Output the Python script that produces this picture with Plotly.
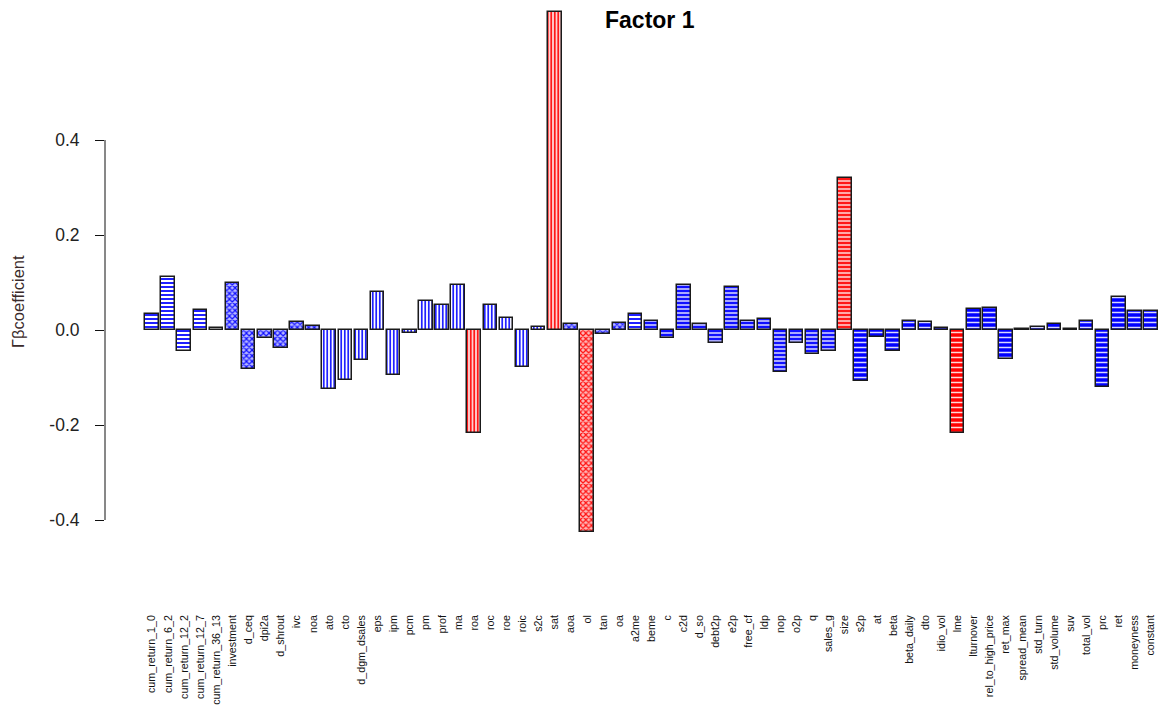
import plotly.graph_objects as go

categories = [
    "cum_return_1_0", "cum_return_6_2", "cum_return_12_2", "cum_return_12_7", "cum_return_36_13",
    "investment", "d_ceq", "dpi2a", "d_shrout", "ivc", "noa", "ato", "cto", "d_dgm_dsales",
    "eps", "ipm", "pcm", "pm", "prof", "ma", "roa", "roc", "roe", "roic", "s2c", "sat", "aoa",
    "ol", "tan", "oa", "a2me", "beme", "c", "c2d", "d_so", "debt2p", "e2p", "free_cf", "ldp",
    "nop", "o2p", "q", "sales_g", "size", "s2p", "at", "beta", "beta_daily", "dto", "idio_vol",
    "lme", "lturnover", "rel_to_high_price", "ret_max", "spread_mean", "std_turn", "std_volume",
    "suv", "total_vol", "prc", "ret", "moneyness", "constant",
]

values = [
    0.034, 0.112, -0.045, 0.042, 0.005,
    0.100, -0.082, -0.017, -0.038, 0.017, 0.008, -0.124, -0.106, -0.064,
    0.080, -0.095, -0.006, 0.062, 0.052, 0.094, -0.216, 0.052, 0.025, -0.077, 0.007, 0.669, 0.013,
    -0.425, -0.008, 0.015, 0.034, 0.018, -0.017, 0.095, 0.013, -0.027, 0.091, 0.020, 0.023,
    -0.088, -0.027, -0.050, -0.044, 0.320, -0.108, -0.014, -0.044, 0.018, 0.016, 0.005,
    -0.217, 0.044, 0.046, -0.062, 0.002, 0.007, 0.013,
    0.002, 0.018, -0.121, 0.070, 0.039, 0.041,
]

y_ticks = [-0.4, -0.2, 0.0, 0.2, 0.4]

# style group of each bar (pattern kind)
groups = (
    ["hw"] * 5 + ["xb"] * 6 + ["vb"] * 9 + ["vr"] + ["vb"] * 3 + ["vb"] + ["vr"] + ["xb"]
    + ["xr"] + ["xb"] * 2 + ["hw"] + ["hl"] * 12 + ["hr"] + ["hd"] * 6 + ["hdr"] + ["hd"] * 12
)

styles = {
    "hw": dict(shape="-", fg="#2020ff", bg="#ffffff", size=4, sol=0.5),
    "xb": dict(shape="x", fg="#1010ff", bg="#b8b8ff", size=4, sol=0.5),
    "vb": dict(shape="|", fg="#2020ff", bg="#ffffff", size=3.5, sol=0.5),
    "vr": dict(shape="|", fg="#ff1818", bg="#ffd0d0", size=3.5, sol=0.5),
    "xr": dict(shape="x", fg="#ff1010", bg="#ffb8b8", size=4, sol=0.5),
    "hl": dict(shape="-", fg="#1010ff", bg="#a8a8ff", size=4, sol=0.5),
    "hr": dict(shape="-", fg="#ff1818", bg="#ffa8a8", size=4, sol=0.5),
    "hd": dict(shape="-", fg="#d8d8ff", bg="#0000ff", size=5, sol=0.3),
    "hdr": dict(shape="-", fg="#ffd8d8", bg="#ff0000", size=5, sol=0.3),
}

fig = go.Figure()
for g, st in styles.items():
    ys = [v if gg == g else None for v, gg in zip(values, groups)]
    fig.add_trace(go.Bar(
        x=categories,
        y=ys,
        width=0.84,
        marker=dict(
            color=st["bg"],
            line=dict(color="#1a1a1a", width=1.5),
            pattern=dict(shape=st["shape"], fgcolor=st["fg"], bgcolor=st["bg"],
                         size=st["size"], solidity=st["sol"], fillmode="replace"),
        ),
        showlegend=False,
    ))

L, T, B = 105, 5, 101
W, H = 1160, 713
plot_h = H - T - B
px_per_unit = 475.0
zero_px = 330
y_top = (zero_px - T) / px_per_unit
y_bot = -(H - B - zero_px) / px_per_unit

spacing = 16.113
x0 = -(152 - L) / spacing
x1 = x0 + (W - L) / spacing

fig.update_layout(
    width=W, height=H,
    margin=dict(l=L, r=0, t=T, b=B),
    paper_bgcolor="white", plot_bgcolor="white",
    font=dict(family="Liberation Sans, Arial, sans-serif", color="#111"),
    barmode="overlay",
    bargap=0,
    xaxis=dict(
        type="category", categoryorder="array", categoryarray=categories,
        range=[x0, x1], showgrid=False, zeroline=False, showline=False,
        ticks="", tickangle=-90, tickfont=dict(size=10.7, color="#111"),
        fixedrange=True,
    ),
    yaxis=dict(
        range=[y_bot, y_top], showgrid=False, zeroline=False, showline=False,
        tickvals=y_ticks, ticktext=[f"{v:.1f}" for v in y_ticks],
        ticks="outside", ticklen=9, tickcolor="#111", tickwidth=1,
        tickfont=dict(size=17.5, color="#222"), ticklabelstandoff=12,
        fixedrange=True,
    ),
    shapes=[dict(type="line", xref="paper", yref="y", x0=0, x1=0,
                 y0=y_ticks[0], y1=y_ticks[-1], line=dict(color="#111", width=1))],
    annotations=[
        dict(text="<b>Factor 1</b>", xref="paper", yref="paper",
             x=(650 - L) / (W - L), y=(H - B - 20) / plot_h, xanchor="center", yanchor="middle",
             showarrow=False, font=dict(size=23, color="#000")),
        dict(text="Γβcoefficient", xref="paper", yref="paper",
             x=(18 - L) / (W - L), y=(H - B - 302) / plot_h, xanchor="center", yanchor="middle",
             textangle=-90, showarrow=False, font=dict(size=16.5, color="#3a2a2a")),
    ],
)

fig.write_html("out.html")
